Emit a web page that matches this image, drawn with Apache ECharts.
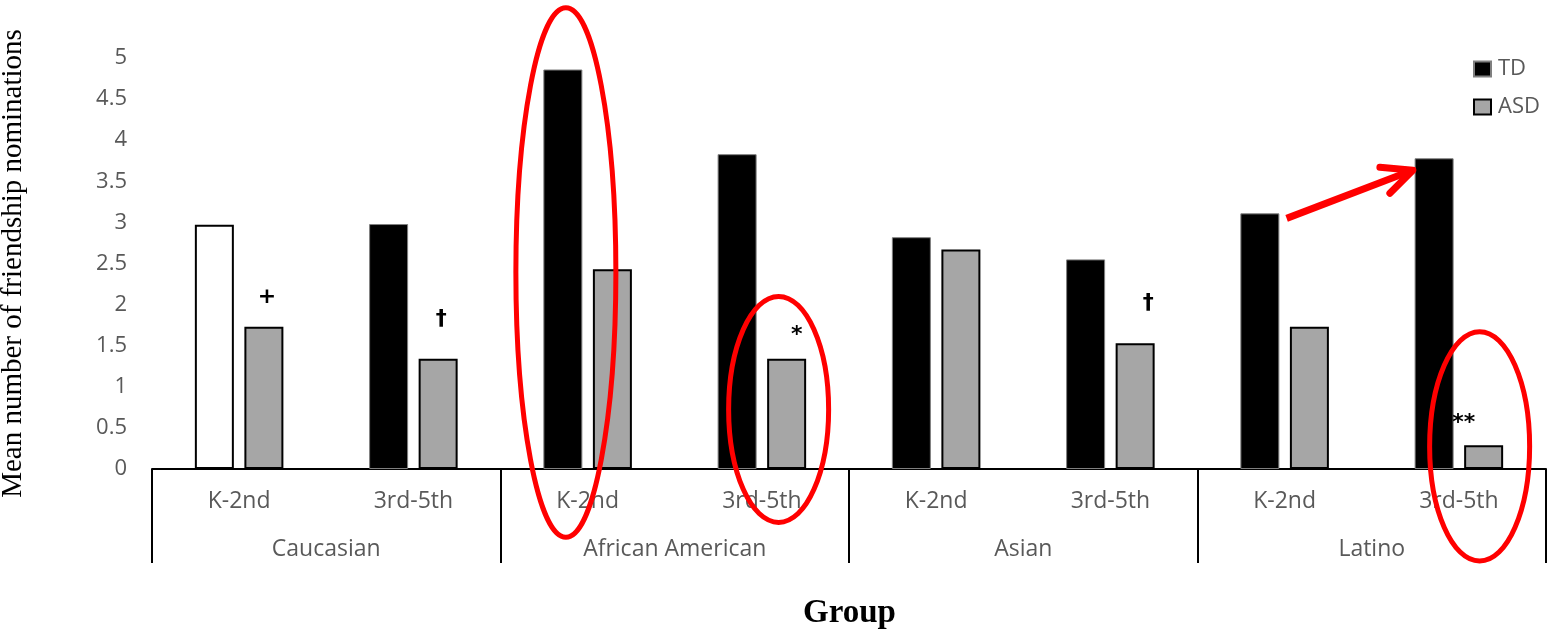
<!DOCTYPE html>
<html>
<head>
<meta charset="utf-8">
<script src="https://cdn.jsdelivr.net/npm/echarts@6/dist/echarts.min.js"></script>
<style>
html,body{margin:0;padding:0;background:#fff;}
#chart{width:1547px;height:633px;}
</style>
</head>
<body>
<div id="chart"></div>
<script>
// ---- data ----
const SUBCATS = ['K-2nd', '3rd-5th', 'K-2nd', '3rd-5th', 'K-2nd', '3rd-5th', 'K-2nd', '3rd-5th'];
const GROUPS = ['Caucasian', 'African American', 'Asian', 'Latino'];
const TD = [2.97, 2.98, 4.86, 3.83, 2.82, 2.55, 3.11, 3.78];
const ASD = [1.73, 1.34, 2.43, 1.34, 2.67, 1.53, 1.73, 0.29];
const ANNOT = ['+', '†', '', '*', '', '†', '', '**'];
const Y_TICKS = { min: 0, max: 5, interval: 0.5 };

// ---- presentation ----
const ANNOT_OFFSET = [[3, -14], [3, -24], [0, 0], [10, -8], [0, 0], [13, -24], [0, 0], [-20, -6]];
const LABEL_COLOR = '#595959';
const SANS = 'Open Sans';

const chart = echarts.init(document.getElementById('chart'), null, { renderer: 'canvas' });

const tdData = TD.map((v, i) => i === 0
  ? { value: v, itemStyle: { color: '#ffffff', borderColor: '#000000', borderWidth: 2 } }
  : v);
const asdData = ASD.map((v, i) => ({
  value: v,
  label: ANNOT[i] ? { show: true, formatter: ANNOT[i], offset: ANNOT_OFFSET[i] } : { show: false }
}));

const option = {
  animation: false,
  backgroundColor: '#ffffff',
  title: {
    text: 'Group', left: 803, top: 597, padding: 0,
    textStyle: { fontFamily: 'Liberation Serif', fontWeight: 'bold', fontSize: 33, color: '#000' }
  },
  legend: {
    orient: 'vertical', left: 1473, top: 58, padding: 0, itemWidth: 17, itemHeight: 15, itemGap: 16,
    icon: 'rect',
    textStyle: { fontFamily: SANS, fontSize: 22, color: LABEL_COLOR, padding: [0, 0, 0, 2] },
    data: ['TD', 'ASD']
  },
  grid: { left: 152, right: 1, top: 58, bottom: 164, containLabel: false, outerBoundsMode: 'none' },
  xAxis: [
    {
      type: 'category', data: SUBCATS, position: 'bottom',
      axisLine: { show: true, onZero: false, lineStyle: { color: '#000', width: 2 } },
      axisTick: { show: false },
      axisLabel: { interval: 0, margin: 21, fontFamily: SANS, fontSize: 23, color: LABEL_COLOR },
      splitLine: { show: false }
    },
    {
      type: 'category', data: GROUPS, position: 'bottom',
      axisLine: { show: false, onZero: false },
      axisTick: { show: true, length: 94, lineStyle: { color: '#000', width: 2 } },
      axisLabel: { interval: 0, margin: 69, fontFamily: SANS, fontSize: 23, color: LABEL_COLOR },
      splitLine: { show: false }
    }
  ],
  yAxis: {
    type: 'value', min: Y_TICKS.min, max: Y_TICKS.max, interval: Y_TICKS.interval,
    name: 'Mean number of friendship nominations', nameLocation: 'middle', nameGap: 124,
    nameTextStyle: { fontFamily: 'Liberation Serif', fontSize: 29, color: '#000' },
    axisLine: { show: false }, axisTick: { show: false }, splitLine: { show: false },
    axisLabel: { margin: 25, fontFamily: SANS, fontSize: 22, color: LABEL_COLOR }
  },
  series: [
    {
      name: 'TD', type: 'bar', xAxisIndex: 0, data: tdData, barWidth: 39, barGap: '27%',
      itemStyle: { color: '#000000', borderColor: '#7f7f7f', borderWidth: 1 }
    },
    {
      name: 'ASD', type: 'bar', xAxisIndex: 0, data: asdData, barWidth: 39, barGap: '27%',
      itemStyle: { color: '#a6a6a6', borderColor: '#000000', borderWidth: 2 },
      label: { show: true, position: 'top', distance: 5, fontFamily: 'DejaVu Sans', fontWeight: 'bold', fontSize: 22, color: '#000' }
    }
  ]
};
chart.setOption(option);

// ---- red annotations (ellipses and arrow), placed from the chart's own scales ----
function px(i, v) { return chart.convertToPixel({ gridIndex: 0 }, [i, v]); }
const halfPair = (39 + 10.5) / 2;
function ellipseAround(catIdx, dx, vTop, vBottom) {
  const c = px(catIdx, 0)[0] + dx;
  const yt = px(catIdx, vTop)[1];
  const yb = px(catIdx, vBottom)[1];
  return {
    type: 'ellipse', z: 100,
    shape: { cx: c, cy: (yt + yb) / 2, rx: 50, ry: (yb - yt) / 2 },
    style: { fill: 'none', stroke: '#ff0000', lineWidth: 5 }
  };
}
const e1 = ellipseAround(2, -halfPair + 3, 5.61, -0.83);
const e2 = ellipseAround(3, halfPair - 8, 2.10, -0.65);
const e3 = ellipseAround(7, halfPair - 4, 1.67, -1.12);

const tdK = px(6, TD[6]);
const td3 = px(7, TD[7]);
const start = [tdK[0] + 2, tdK[1] + 5];
const tip = [td3[0] - 46, td3[1] + 12];
const arrow = [
  { type: 'line', z: 100, shape: { x1: start[0], y1: start[1], x2: tip[0] - 3, y2: tip[1] + 1 },
    style: { stroke: '#ff0000', lineWidth: 7, lineCap: 'butt' } },
  { type: 'polyline', z: 100, shape: { points: [[tip[0] - 33, tip[1] - 3], tip, [tip[0] - 23, tip[1] + 23]] },
    style: { fill: 'none', stroke: '#ff0000', lineWidth: 7, lineCap: 'round', lineJoin: 'round' } }
];

chart.setOption({ graphic: [e1, e2, e3].concat(arrow) });
</script>
</body>
</html>
